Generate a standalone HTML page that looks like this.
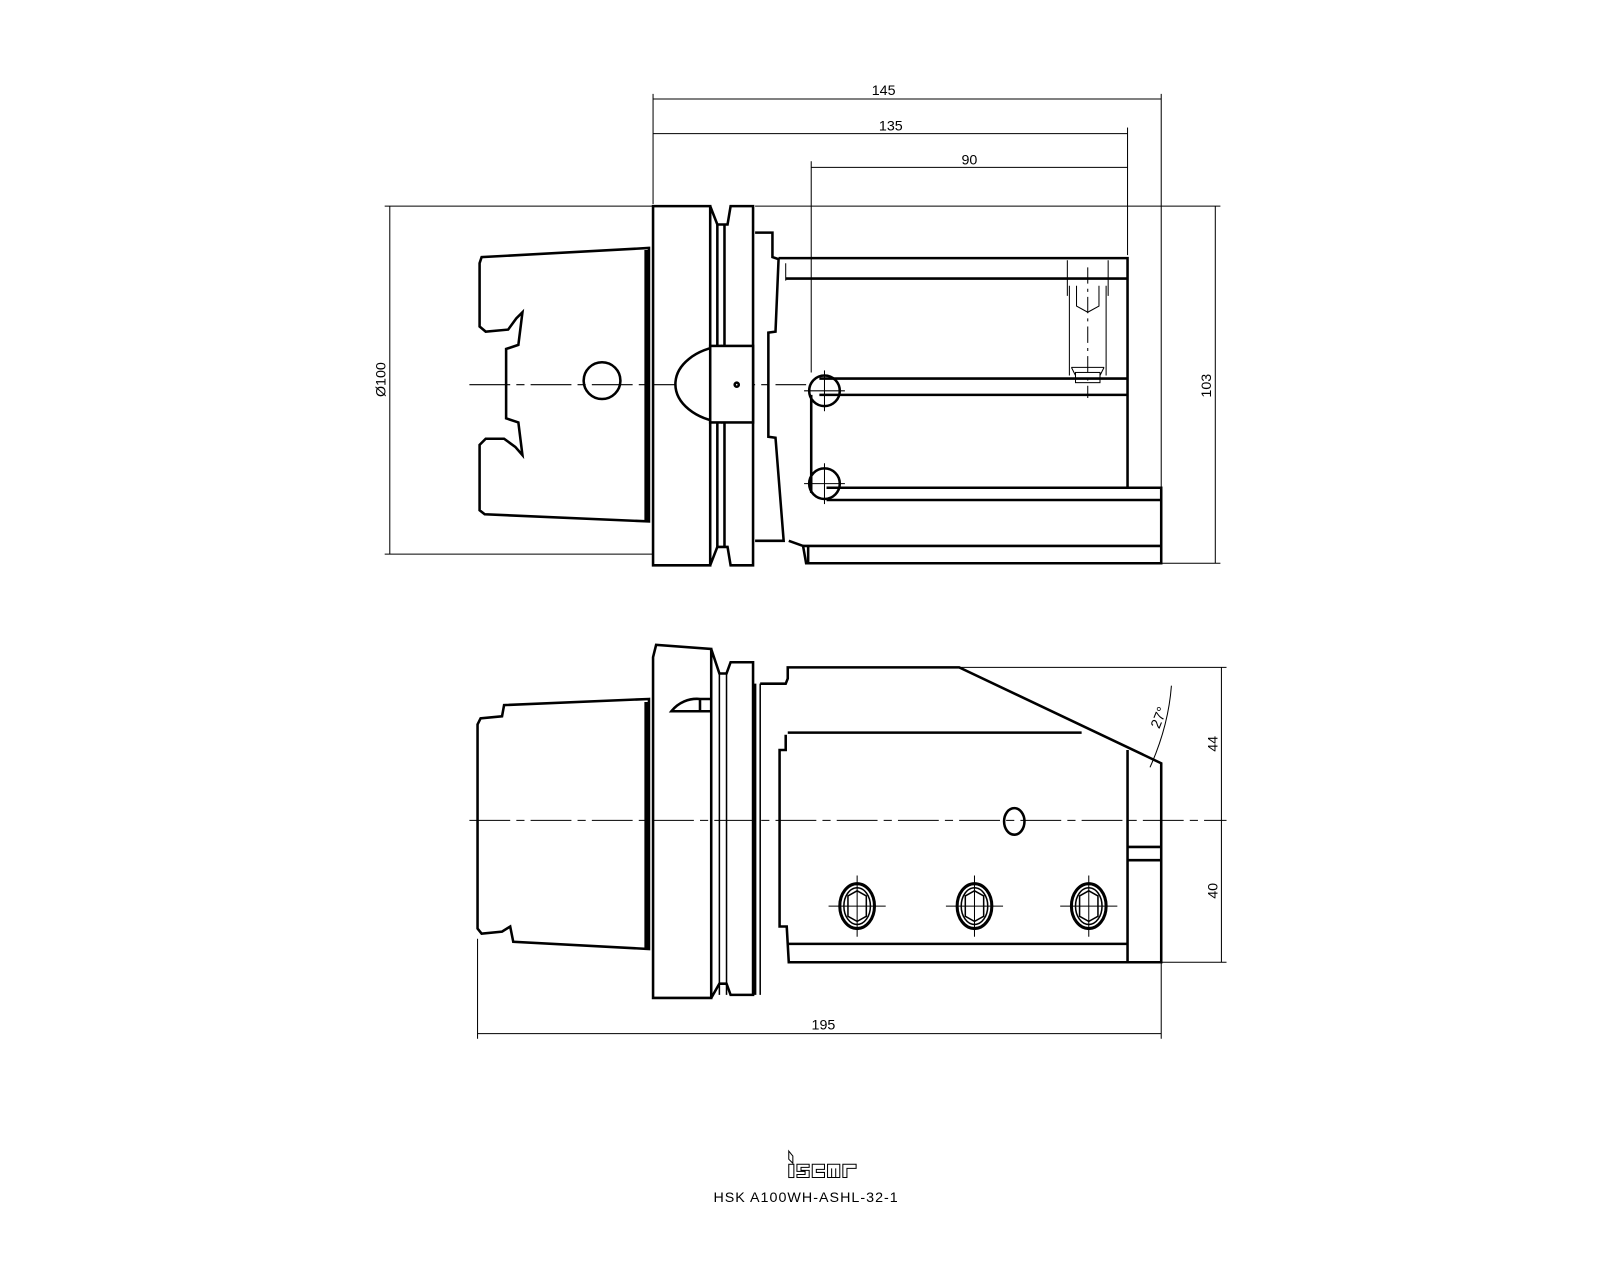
<!DOCTYPE html>
<html><head><meta charset="utf-8"><style>
html,body{margin:0;padding:0;background:#fff;}
svg{display:block;}
text{font-family:"Liberation Sans",sans-serif;font-size:14px;fill:#000;}
</style></head><body>
<svg width="1600" height="1280" viewBox="0 0 1600 1280" xmlns="http://www.w3.org/2000/svg">
<g transform="scale(1.0204)">
<g fill="none" stroke="#000">
<!-- ===== TOP VIEW ===== -->
<g stroke-width="1">
<line x1="640" y1="92" x2="640" y2="200"/>
<line x1="1138" y1="92" x2="1138" y2="478"/>
<line x1="640" y1="97" x2="1138" y2="97"/>
<line x1="1105" y1="125" x2="1105" y2="250"/>
<line x1="640" y1="131" x2="1105" y2="131"/>
<line x1="795" y1="158" x2="795" y2="365"/>
<line x1="795" y1="164" x2="1105" y2="164"/>
<line x1="377" y1="202" x2="640" y2="202"/>
<line x1="377" y1="543" x2="640" y2="543"/>
<line x1="382" y1="202" x2="382" y2="543"/>
<line x1="740" y1="202" x2="1196" y2="202"/>
<line x1="1138" y1="552" x2="1196" y2="552"/>
<line x1="1191" y1="202" x2="1191" y2="552"/>
<line x1="460" y1="377" x2="790" y2="377" stroke-dasharray="40,6,8,6"/>
</g>
<g stroke-width="2.5">
<path d="M636 243 L472 252 L470 258 L470 320 L476 325 L498 323 L506 312 L512 306 L508 338 L496 342 L496 410 L508 414 L512 446 L505 438 L494 430 L476 430 L470 436 L470 500 L475 504 L636 511 Z"/>
<line x1="634" y1="245" x2="634" y2="510" stroke-width="5"/>
<circle cx="590" cy="373" r="18"/>
<path d="M640 202 L696 202 L696 554 L640 554 Z"/>
<path d="M696 202 L703 220 L713 220 L716 202 L738 202 L738 554 L716 554 L713 536 L703 536 L696 554"/>
<line x1="703" y1="220" x2="703" y2="536"/>
<line x1="710" y1="220" x2="710" y2="536"/>
<path d="M708 339 A55 38 0 0 0 708 414" fill="#fff"/>
<rect x="696" y="339" width="42" height="75" fill="#fff"/>
<line x1="696" y1="339" x2="696" y2="414" stroke-width="1"/>
<circle cx="722" cy="377" r="2"/>
<path d="M740 228 L757 228 L757 252 L763 254 L760 325 L753 326 L753 428 L760 429 L768 530 L740 530"/>
<path d="M763 253 L1105 253 L1105 478 L1138 478 L1138 552 L790 552 L787 535 L773 530"/>
<line x1="770" y1="273" x2="1105" y2="273"/>
<line x1="770" y1="258" x2="770" y2="275" stroke-width="1"/>
<line x1="803" y1="371" x2="1105" y2="371"/>
<line x1="803" y1="387" x2="1105" y2="387"/>
<line x1="795" y1="387" x2="795" y2="483"/>
<line x1="810" y1="478" x2="1105" y2="478"/>
<line x1="810" y1="490" x2="1138" y2="490"/>
<line x1="787" y1="535" x2="1138" y2="535"/>
<line x1="792" y1="535" x2="792" y2="552"/>
<circle cx="808" cy="383" r="15"/>
<circle cx="808" cy="474" r="15"/>
</g>
<g stroke-width="1">
<line x1="788" y1="383" x2="828" y2="383"/><line x1="808" y1="363" x2="808" y2="403"/>
<line x1="788" y1="474" x2="828" y2="474"/><line x1="808" y1="454" x2="808" y2="494"/>
<path d="M1046 255 L1046 290 M1086 255 L1086 290"/>
<path d="M1048 280 L1048 368 M1084 280 L1084 368"/>
<path d="M1055 280 L1055 300 L1066 306 L1077 300 L1077 280"/>
<path d="M1050 360 L1054 368 M1082 360 L1078 368 M1050 360 L1082 360"/>
<rect x="1054" y="365" width="24" height="10"/>
<line x1="1066" y1="262" x2="1066" y2="390" stroke-dasharray="16,5,3,5"/>
</g>

<!-- ===== BOTTOM VIEW ===== -->
<g stroke-width="1">
<line x1="460" y1="804" x2="1202" y2="804" stroke-dasharray="40,6,8,6"/>
<line x1="940" y1="654" x2="1202" y2="654"/>
<line x1="1138" y1="943" x2="1202" y2="943"/>
<line x1="1197" y1="654" x2="1197" y2="943"/>
<line x1="468" y1="920" x2="468" y2="1018"/>
<line x1="1138" y1="943" x2="1138" y2="1018"/>
<line x1="468" y1="1013" x2="1138" y2="1013"/>
<path d="M1148 672 Q1145 712 1127 752"/>
</g>
<g stroke-width="2.5">
<path d="M636 685 L494 691 L492 702 L471 704 L468 710 L468 910 L472 915 L492 913 L500 908 L503 923 L636 930 Z"/>
<line x1="634" y1="688" x2="634" y2="930" stroke-width="5"/>
<path d="M640 644 L643 632 L697 636 L697 978 L640 978 Z"/>
<path d="M697 636 L705 660 L712 660 L716 649 L738 649 L738 975 L716 975 L712 964 L705 964 L697 978"/>
<line x1="705" y1="660" x2="705" y2="975" stroke-width="1.5"/>
<line x1="712" y1="660" x2="712" y2="975" stroke-width="1.5"/>
<path d="M658 697 A32 32 0 0 1 686 685 L697 685 L697 697 Z"/>
<line x1="686" y1="685" x2="686" y2="697"/>
<line x1="740" y1="670" x2="740" y2="975"/>
<line x1="745" y1="670" x2="745" y2="975" stroke-width="1.5"/>
<path d="M745 670 L770 670 L772 665 L772 654 L940 654 L1138 748 L1138 943 L1105 943 L1105 735 M1105 943 L773 943 L771 908 L764 908 L764 735 L770 735 L770 720"/>
<line x1="772" y1="718" x2="1060" y2="718"/>
<line x1="772" y1="925" x2="1105" y2="925"/>
<line x1="1105" y1="830" x2="1138" y2="830"/>
<line x1="1105" y1="843" x2="1138" y2="843"/>
<ellipse cx="994" cy="805" rx="10" ry="13"/>
</g>
<g stroke-width="1.5">
<g transform="translate(840,888)">
<ellipse rx="17" ry="22" stroke-width="3"/><ellipse rx="13" ry="18"/><path d="M-9 -10 L0 -15 L9 -10 L9 10 L0 15 L-9 10 Z"/>
<line x1="-28" y1="0" x2="28" y2="0" stroke-width="1"/><line x1="0" y1="-30" x2="0" y2="30" stroke-width="1"/>
</g>
<g transform="translate(955,888)">
<ellipse rx="17" ry="22" stroke-width="3"/><ellipse rx="13" ry="18"/><path d="M-9 -10 L0 -15 L9 -10 L9 10 L0 15 L-9 10 Z"/>
<line x1="-28" y1="0" x2="28" y2="0" stroke-width="1"/><line x1="0" y1="-30" x2="0" y2="30" stroke-width="1"/>
</g>
<g transform="translate(1067,888)">
<ellipse rx="17" ry="22" stroke-width="3"/><ellipse rx="13" ry="18"/><path d="M-9 -10 L0 -15 L9 -10 L9 10 L0 15 L-9 10 Z"/>
<line x1="-28" y1="0" x2="28" y2="0" stroke-width="1"/><line x1="0" y1="-30" x2="0" y2="30" stroke-width="1"/>
</g>
</g>

<g stroke-width="1">
<path d="M773 1128 L777 1133 L777 1140 L773 1136 Z"/>
<rect x="773" y="1141" width="5" height="13"/>
<path d="M781 1141 H793 V1144 H785 V1147 H793 V1154 H781 V1151 H789 V1148 H781 Z"/>
<path d="M796 1141 H808 V1146 H800 V1149 H808 V1154 H796 Z"/>
<path d="M811 1141 H823 V1154 H811 Z M815 1145 V1154 M819 1145 V1154"/>
<path d="M826 1141 H839 V1145 H830 V1154 H826 Z"/>
</g>
</g>

<text x="866" y="93" text-anchor="middle">145</text>
<text x="873" y="128" text-anchor="middle">135</text>
<text x="950" y="161" text-anchor="middle">90</text>
<text x="807" y="1009" text-anchor="middle">195</text>
<text transform="translate(378,372) rotate(-90)" text-anchor="middle">Ø100</text>
<text transform="translate(1187,378) rotate(-90)" text-anchor="middle">103</text>
<text transform="translate(1193,729) rotate(-90)" text-anchor="middle">44</text>
<text transform="translate(1193,873) rotate(-90)" text-anchor="middle">40</text>
<text transform="translate(1140,705) rotate(-68)" text-anchor="middle">27°</text>
<text x="790" y="1178" text-anchor="middle" style="font-size:14px;letter-spacing:1px">HSK  A100WH-ASHL-32-1</text>
</g>
</svg>
</body></html>
